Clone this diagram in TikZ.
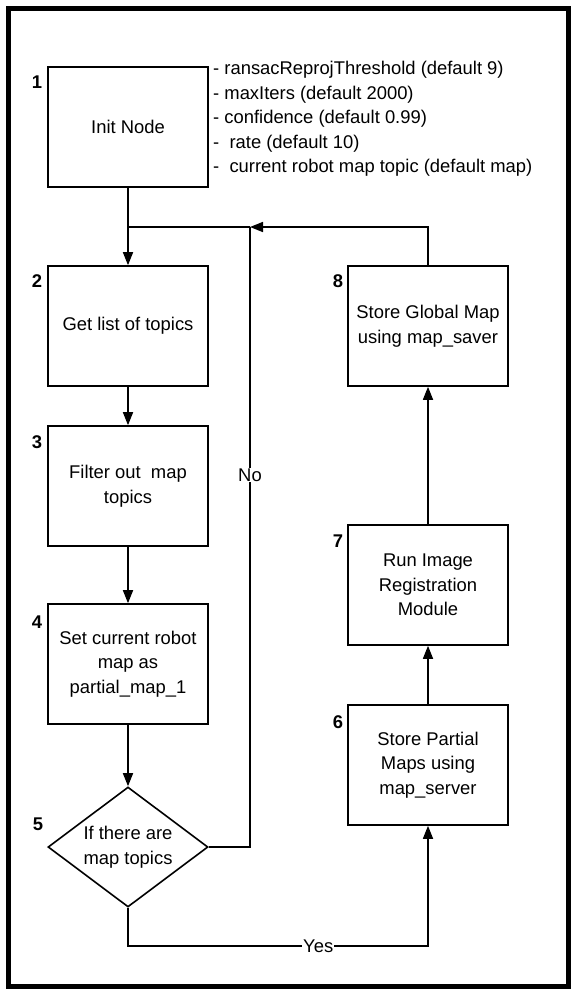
\documentclass[tikz,border=0pt]{standalone}
\usepackage{fontspec}
\setmainfont{Liberation Sans}
\usetikzlibrary{arrows.meta,shapes.geometric}
\begin{document}
\begin{tikzpicture}[x=1pt,y=-1pt,
  every node/.style={font=\fontsize{18.4}{24.5}\selectfont},
  stepbox/.style={draw,line width=1.6pt,minimum width=160pt,minimum height=120pt,inner sep=0pt,align=center},
  decision/.style={draw,line width=1.6pt,shape=diamond,minimum width=160pt,minimum height=120pt,inner sep=0pt,align=center,aspect=1.33},
  num/.style={font=\fontsize{18.4}{20}\selectfont\bfseries},
  conn/.style={line width=1.6pt},
  arr/.style={conn,-{Triangle[length=13pt,width=10pt]}},
  lbl/.style={fill=white,inner sep=1pt}
]
\useasboundingbox (0,0) rectangle (576,994);
\draw[line width=5pt] (8,8) rectangle (568,986);

\node[stepbox] (n1) at (128,127) {Init Node};
\node[stepbox] (n2) at (128,326) {Get list of topics};
\node[stepbox] (n3) at (128,486) {Filter out\ \ map\\topics};
\node[stepbox] (n4) at (128,664) {Set current robot\\map as\\partial\_map\_1};
\node[decision] (n5) at (128,847) {If there are\\map topics};
\node[stepbox] (n6) at (428,765) {Store Partial\\Maps using\\map\_server};
\node[stepbox] (n7) at (428,585) {Run Image\\Registration\\Module};
\node[stepbox] (n8) at (428,326) {Store Global Map\\using map\_saver};

\node[num] (l1) at (37,82) {1};
\node[num] (l2) at (37,281) {2};
\node[num] (l3) at (37,442) {3};
\node[num] (l4) at (37,622) {4};
\node[num] (l5) at (38,824) {5};
\node[num] (l6) at (338,722) {6};
\node[num] (l7) at (338,541) {7};
\node[num] (l8) at (338,281) {8};

\node[anchor=north west,align=left,inner sep=0pt] (params) at (213,61) {- ransacReprojThreshold (default 9)\\- maxIters (default 2000)\\- confidence (default 0.99)\\-\ \ rate (default 10)\\-\ \ current robot map topic (default map)};

\coordinate (join) at (250,227);
\coordinate (left) at (128,227);
\coordinate (yesc) at (128,946);

\draw[arr] (n1.south) -- (n2.north);
\draw[conn] (join) -- (left);
\draw[arr] (n8.north) |- (join);
\draw[arr] (n2.south) -- (n3.north);
\draw[arr] (n3.south) -- (n4.north);
\draw[arr] (n4.south) -- (n5.north);
\draw[conn] (n5.east) -| node[pos=0.80,lbl] {No} (join);
\draw[arr] (n5.south) -- (yesc) -| node[pos=0.317,lbl] {Yes} (n6.south);
\draw[arr] (n6.north) -- (n7.south);
\draw[arr] (n7.north) -- (n8.south);
\end{tikzpicture}
\end{document}
